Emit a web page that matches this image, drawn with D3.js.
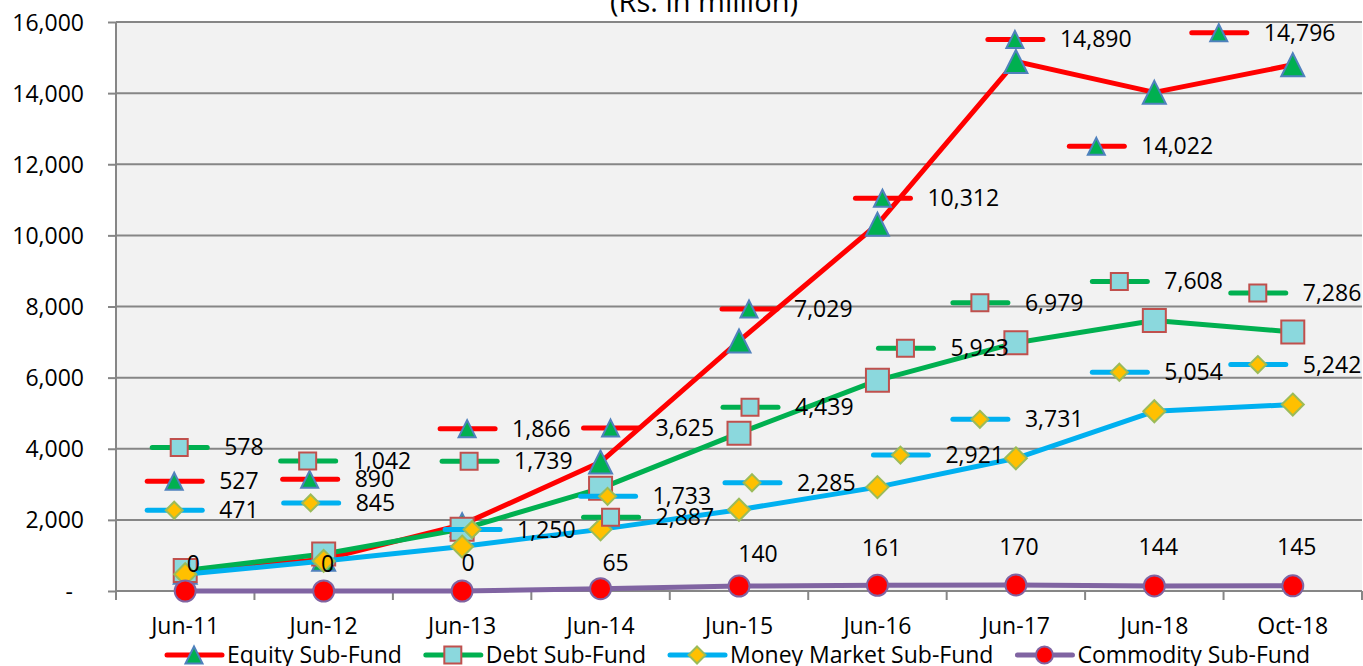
<!DOCTYPE html>
<html>
<head>
<meta charset="utf-8">
<script src="https://cdn.jsdelivr.net/npm/d3@7/dist/d3.min.js"></script>
<style>
    body { margin: 0; background: #fff; }
    svg text { font-family: "Open Sans", sans-serif; fill: #000; }
</style>
</head>
<body>
<script>
// values (Rs. in million)
var categories = ["Jun-11", "Jun-12", "Jun-13", "Jun-14", "Jun-15", "Jun-16", "Jun-17", "Jun-18", "Oct-18"];
var equity = [527, 890, 1866, 3625, 7029, 10312, 14890, 14022, 14796];
var debt = [578, 1042, 1739, 2887, 4439, 5923, 6979, 7608, 7286];
var moneyMarket = [471, 845, 1250, 1733, 2285, 2921, 3731, 5054, 5242];
var commodity = [0, 0, 0, 65, 140, 161, 170, 144, 145];
var seriesNames = ["Equity Sub-Fund", "Debt Sub-Fund", "Money Market Sub-Fund", "Commodity Sub-Fund"];
var yTicks = [0, 2000, 4000, 6000, 8000, 10000, 12000, 14000, 16000];
var title = "(Rs. in million)";

// label placement (pixel offsets from each point, hand-moved like in the original)
var equityLabelPos = [[-38, -91], [-41, -80], [-22, -96], [-17, -34], [-17, -32], [-22, -26], [-28, -22], [-85, 54], [-101, -32]];
var debtLabelPos = [[-33, -123], [-43, -93], [-20, -68], [-17, 29], [-16, -26], [1, -32], [-63, -40], [-62, -39], [-62, -39]];
var mmLabelPos = [[-38, -64], [-40, -58], [-17, -17], [-20, -33], [-14, -27], [-4, -32], [-63, -39], [-62, -39], [-62, -40]];
var commodityLabelPos = [[8, -27], [4, -27], [6, -28], [15, -26], [19, -32], [4, -37], [3, -38], [4, -39], [4, -39]];

var width = 1363, height = 666;
var plot = { left: 116, right: 1362, top: 22, bottom: 591 };
var gray = "#868686";
var fontSize = 23;

var series = [
    { name: seriesNames[0], values: equity, line: "#ff0000", shape: "triangle", fill: "#00b050", stroke: "#4f81bd", labels: equityLabelPos, key: true },
    { name: seriesNames[1], values: debt, line: "#00b050", shape: "square", fill: "#8bd8dd", stroke: "#c0504d", labels: debtLabelPos, key: true },
    { name: seriesNames[2], values: moneyMarket, line: "#00b0f0", shape: "diamond", fill: "#ffc000", stroke: "#9bbb59", labels: mmLabelPos, key: true },
    { name: seriesNames[3], values: commodity, line: "#8064a2", shape: "circle", fill: "#ff0000", stroke: "#8064a2", labels: commodityLabelPos, key: false }
];

var svg = d3.select("body").append("svg")
    .attr("width", width)
    .attr("height", height);

var x = d3.scaleBand()
    .domain(categories)
    .range([plot.left, plot.right]);
var y = d3.scaleLinear()
    .domain([0, 16000])
    .range([plot.bottom, plot.top]);

function cx(i) { return x(categories[i]) + x.bandwidth() / 2; }

function markerPath(shape, s) {
    var h = s / 2;
    if (shape == "triangle") return "M0," + (-h) + "L" + h + "," + h + "L" + (-h) + "," + h + "Z";
    if (shape == "square") return "M" + (-h) + "," + (-h) + "H" + h + "V" + h + "H" + (-h) + "Z";
    if (shape == "diamond") return "M0," + (-h) + "L" + h + ",0L0," + h + "L" + (-h) + ",0Z";
    return "M" + h + ",0A" + h + "," + h + " 0 1,1 " + (-h) + ",0A" + h + "," + h + " 0 1,1 " + h + ",0Z";
}

// plot background
svg.append("rect")
    .attr("x", plot.left)
    .attr("y", plot.top)
    .attr("width", plot.right - plot.left)
    .attr("height", plot.bottom - plot.top)
    .attr("fill", "#f2f2f2");

// horizontal grid
svg.append("g")
    .selectAll("line")
    .data(yTicks)
    .enter()
    .append("line")
    .attr("x1", plot.left)
    .attr("x2", plot.right)
    .attr("y1", function (d) { return y(d); })
    .attr("y2", function (d) { return y(d); })
    .attr("stroke", gray)
    .attr("stroke-width", 2);

// y axis
var yAxis = d3.axisLeft(y)
    .tickValues(yTicks)
    .tickSize(8)
    .tickPadding(24)
    .tickFormat(function (d) { return d == 0 ? "-" : d3.format(",")(d); });

var yg = svg.append("g")
    .attr("transform", "translate(" + plot.left + ",0)")
    .call(yAxis);
yg.select(".domain").remove();
yg.selectAll(".tick line").attr("stroke", gray).attr("stroke-width", 2);
yg.selectAll(".tick text")
    .style("font-size", fontSize + "px")
    .attr("dy", null)
    .attr("y", 8)
    .attr("x", function (d) { return d == 0 ? -43 : -32; });

svg.append("line")
    .attr("x1", plot.left).attr("x2", plot.left)
    .attr("y1", plot.top).attr("y2", plot.bottom + 9)
    .attr("stroke", gray).attr("stroke-width", 2);

// x axis
var xAxis = d3.axisBottom(x).tickSize(0).tickPadding(0);
var xg = svg.append("g")
    .attr("transform", "translate(0," + plot.bottom + ")")
    .call(xAxis);
xg.select(".domain").remove();
xg.selectAll(".tick text")
    .style("font-size", fontSize + "px")
    .attr("dy", null)
    .attr("y", 43);

svg.append("line")
    .attr("x1", plot.left).attr("x2", plot.right)
    .attr("y1", plot.bottom).attr("y2", plot.bottom)
    .attr("stroke", gray).attr("stroke-width", 2);

svg.append("g")
    .selectAll("line")
    .data(d3.range(categories.length + 1))
    .enter()
    .append("line")
    .attr("x1", function (i) { return plot.left + i * x.step(); })
    .attr("x2", function (i) { return plot.left + i * x.step(); })
    .attr("y1", plot.bottom)
    .attr("y2", plot.bottom + 9)
    .attr("stroke", gray)
    .attr("stroke-width", 2);

// title
svg.append("text")
    .attr("x", 704)
    .attr("y", 12)
    .attr("text-anchor", "middle")
    .style("font-size", "29px")
    .text(title);

// lines + markers
var line = d3.line()
    .x(function (d, i) { return cx(i); })
    .y(function (d) { return y(d); });

series.forEach(function (s) {
    svg.append("path")
        .datum(s.values)
        .attr("d", line)
        .attr("fill", "none")
        .attr("stroke", s.line)
        .attr("stroke-width", 5)
        .attr("stroke-linejoin", "round")
        .attr("stroke-linecap", "round");

    svg.append("g")
        .selectAll("path")
        .data(s.values)
        .enter()
        .append("path")
        .attr("transform", function (d, i) { return "translate(" + cx(i) + "," + y(d) + ")"; })
        .attr("d", markerPath(s.shape, s.shape == "diamond" ? 22 : s.shape == "circle" ? 21 : 23))
        .attr("fill", s.fill)
        .attr("stroke", s.stroke)
        .attr("stroke-width", 2);
});

// legend key glyph: short line with a small marker
function drawKey(g, s, x0, y0) {
    g.append("line")
        .attr("x1", x0).attr("x2", x0 + 55)
        .attr("y1", y0).attr("y2", y0)
        .attr("stroke", s.line)
        .attr("stroke-width", 5)
        .attr("stroke-linecap", "round");
    g.append("path")
        .attr("transform", "translate(" + (x0 + 27) + "," + y0 + ")")
        .attr("d", markerPath(s.shape, 17))
        .attr("fill", s.fill)
        .attr("stroke", s.stroke)
        .attr("stroke-width", 2);
}

// data labels
var labelLayer = svg.append("g");
series.forEach(function (s) {
    s.values.forEach(function (v, i) {
        var px = cx(i), py = y(v);
        var off = s.labels[i];
        if (s.key) {
            var kx = px + off[0], ky = py + off[1];
            drawKey(labelLayer, s, kx, ky);
            labelLayer.append("text")
                .attr("x", kx + 72)
                .attr("y", ky + 8)
                .style("font-size", fontSize + "px")
                .text(d3.format(",")(v));
        } else {
            labelLayer.append("text")
                .attr("x", px + off[0])
                .attr("y", py + off[1] + 8)
                .attr("text-anchor", "middle")
                .style("font-size", fontSize + "px")
                .text(d3.format(",")(v));
        }
    });
});

// legend
var legend = svg.append("g");
var lx = 167, ly = 655;
series.forEach(function (s) {
    drawKey(legend, s, lx, ly);
    var t = legend.append("text")
        .attr("x", lx + 60)
        .attr("y", ly + 8)
        .style("font-size", fontSize + "px")
        .text(s.name);
    lx = lx + 60 + t.node().getComputedTextLength() + 24;
});
</script>
</body>
</html>
